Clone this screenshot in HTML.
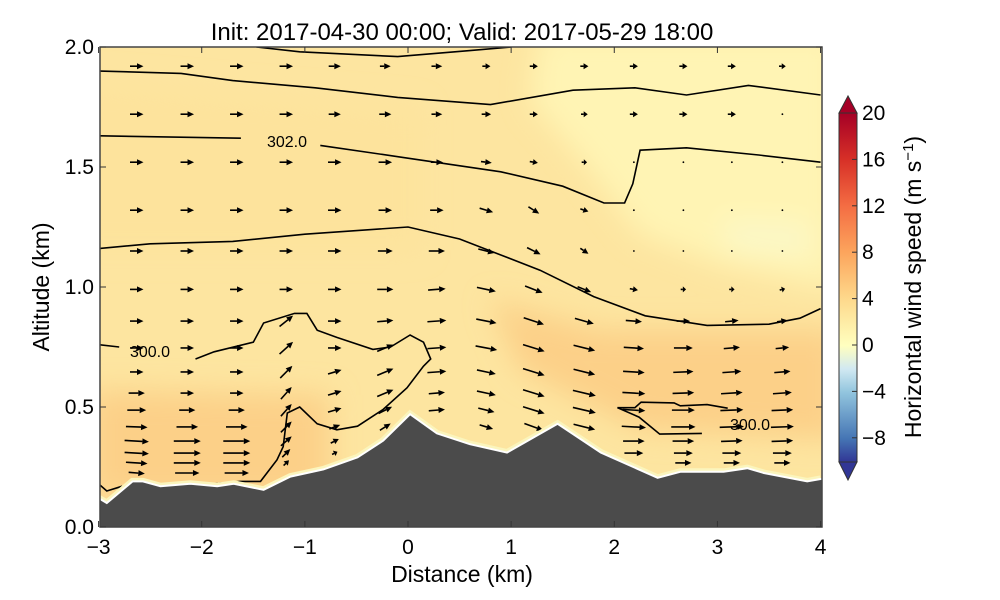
<!DOCTYPE html>
<html><head><meta charset="utf-8"><style>
body{margin:0;background:#fff;}
svg{display:block;font-family:"Liberation Sans","DejaVu Sans",sans-serif;}
</style></head><body>
<svg id="chart" width="1000" height="600" viewBox="0 0 1000 600">
<defs>
<clipPath id="plotclip"><rect x="100" y="47" width="722" height="480"/></clipPath>
<filter id="blur" x="-20%" y="-20%" width="140%" height="140%"><feGaussianBlur stdDeviation="14"/></filter>
<linearGradient id="cbgrad" x1="0" y1="1" x2="0" y2="0">
<stop offset="0" stop-color="#313695"/>
<stop offset="0.0667" stop-color="#4575b4"/>
<stop offset="0.2" stop-color="#92c5de"/>
<stop offset="0.2667" stop-color="#d1e9f2"/>
<stop offset="0.3333" stop-color="#ffffbf"/>
<stop offset="0.4667" stop-color="#fed98c"/>
<stop offset="0.6" stop-color="#fca55d"/>
<stop offset="0.7333" stop-color="#f46d43"/>
<stop offset="0.8667" stop-color="#d73027"/>
<stop offset="1" stop-color="#a50026"/>
</linearGradient>
</defs>
<text x="462" y="40" text-anchor="middle" font-size="24">Init: 2017-04-30 00:00; Valid: 2017-05-29 18:00</text>
<g clip-path="url(#plotclip)">
<rect x="100" y="47" width="722" height="480" fill="#fde5a0"/>
<g filter="url(#blur)">
<polygon points="540,30 840,30 840,290 720,265 640,235 590,170 530,100" fill="#fff4b4"/>
<polygon points="720,220 810,225 810,255 730,250" fill="#fbf8c8"/>
<polygon points="90,390 330,395 330,500 90,500" fill="#fcd088"/>
<polygon points="490,300 600,330 840,330 840,440 640,430 520,370" fill="#fcd088"/>
<polygon points="70,80 420,110 420,250 70,250" fill="#fde39c"/>
</g>
<g id="arrows"></g>
<g fill="none" stroke="#000" stroke-width="1.6" id="contours"></g>
<path id="terrainBorder" fill="none" stroke="#fbf5bd" stroke-width="7"/>
<path id="terrain" fill="#4b4b4b" stroke="#fff" stroke-width="2"/>
<text x="150" y="357" font-size="16" text-anchor="middle">300.0</text>
<text x="287" y="147" font-size="16" text-anchor="middle">302.0</text>
<text x="750" y="430" font-size="16" text-anchor="middle">300.0</text>
</g>
<rect x="100" y="47" width="722" height="480" fill="none" stroke="#444" stroke-width="1.5"/>
<g id="axes" font-size="21"></g>
<text x="462" y="582" text-anchor="middle" font-size="23">Distance (km)</text>
<text transform="translate(49,287) rotate(-90)" text-anchor="middle" font-size="23">Altitude (km)</text>
<g>
<polygon points="839,113 848,96 857,113" fill="#a50026" stroke="#333" stroke-width="1"/>
<polygon points="839,462 848,480 857,462" fill="#313695" stroke="#333" stroke-width="1"/>
<rect x="839" y="113" width="18" height="349" fill="url(#cbgrad)" stroke="#333" stroke-width="1"/>
<g id="cbticks" font-size="21"></g>
<text transform="translate(921,287) rotate(-90)" text-anchor="middle" font-size="23">Horizontal wind speed (m s<tspan dy="-8" font-size="15">−1</tspan><tspan dy="8">)</tspan></text>
</g>
</svg>
<script>
// ---- data ----
const xTicks = [-3,-2,-1,0,1,2,3,4];
const yTicks = [0.0,0.5,1.0,1.5,2.0];
const cbTicks = [20,16,12,8,4,0,-4,-8];
const terrainX = [-3,-2.92,-2.67,-2.57,-2.40,-2.11,-1.85,-1.69,-1.40,-1.14,-0.82,-0.49,-0.24,0.02,0.28,0.60,0.96,1.45,1.87,2.42,2.64,3.06,3.29,3.45,3.87,4.0];
const terrainY = [0.12,0.10,0.19,0.19,0.17,0.18,0.17,0.18,0.155,0.21,0.24,0.29,0.36,0.47,0.39,0.345,0.31,0.43,0.31,0.205,0.23,0.23,0.245,0.225,0.19,0.20];
const colX = [-2.63,-2.14,-1.66,-1.18,-0.71,-0.22,0.28,0.76,1.22,1.71,2.19,2.67,3.14,3.63];
const rowY = [1.92,1.72,1.52,1.32,1.15,0.99,0.858,0.746,0.646,0.558,0.487,0.417,0.358,0.308,0.267,0.225,0.196];
const uRows = [
[5,5,5,5,4.5,4,4,3,3,3,3,3,3,2.5],
[5,5,5,5,4.5,4.5,4,3.5,3,2.5,3,3,3,0.5],
[5,5,5,5,5,5,4.5,4,3,2,0.5,0.3,0.3,0.3],
[5,5,5,5,5,5,5,5,4,3,0.3,0.3,0.3,0.3],
[5,5,5,5,5,5.5,6,6,5,3,0.3,0.3,0.3,0.3],
[5,5,5,5,5,6,6.5,7,6.5,5,3,2,2,2],
[5,5,5,5,5,6,7,7.5,7.5,7,6,5,5,4],
[5,5,5,5,5,6,7,8,8,8,7.5,7,6,5],
[5,5,5,4.5,5,6,7,7,8,8,8,7.5,7,6],
[6,5,5,4,5,6,6,7,8,8.5,8.5,8,8,7],
[7,6,6,4,5,5,6,6,8,8.5,8.5,8.5,8.5,8],
[8,8,8,4,4,4,5,5,7,8,9,9,9,8.5],
[9,10,10,4,3,3,4,4,6,7,8,8,8,8],
[9,10,10,3,2,2,0,3,5,6,7,7,7,7],
[8,10,10,2,1,0,0,0,3,4,6,6,6,6],
[6,9,9,1,0,0,0,0,0,3,4,5,5,5],
[4,7,7,0,0,0,0,0,0,0,2,3,3,3]];
const wRows = [
[0,0,0,0,0,0,0,0,0,0,0,0,0,0],
[0,0,0,0,0,0,0,0,0,0,0,0,0,0],
[0,0,0,0,0,0,0,-0.5,-0.5,0,0,0,0,0],
[0,0,0,0,0,0,0,-1.5,-2.5,-1,0,0,0,0],
[0,0,0,0,0,0,0,-1.5,-2.5,-2,0,0,0,0],
[0,0,0,0,0,0,0.5,-1.5,-2.5,-2,-0.5,0,0,0.5],
[0,0,0,4,0,0.5,0.5,-1.5,-2.5,-2,-0.5,0,0.5,0.5],
[0,0,0,4.5,0,2.5,0.5,-1.5,-2.5,-2,-0.5,0,0.5,0.5],
[0,0,0,4.5,1.5,2.5,0.5,-1.5,-2.5,-2,-0.5,0.3,0.5,0.5],
[0,0,0,4.5,1.5,2.5,0.5,-1.5,-2.5,-2,-0.5,0.3,0.5,0.5],
[0,0,0,4.5,1.5,2.5,0.5,-1.5,-2.5,-2,-0.5,0,0.3,0.3],
[-0.3,0,0,4,1.5,2.5,0.5,-1.5,-2.5,-2,-0.5,0,0.3,0.3],
[-0.5,0,0,3.5,1.5,2.5,0.5,-1.5,-2,-1,0,0,0.3,0.3],
[-0.5,0,0,3,1,2,0,-1,-1,0,0,0,0,0],
[-0.5,0,0,2,0,0,0,0,0,0,0,0,0,0],
[-0.5,0,0,1,0,0,0,0,0,0,0,0,0,0],
[0,0,0,0,0,0,0,0,0,0,0,0,0,0]];
const contourLines = [
[[-1.47,2.0],[-1.05,1.98],[-0.1,1.96],[0.6,1.985],[1.0,2.0]],
[[-3,1.9],[-2.2,1.89],[-1.7,1.86],[-0.9,1.83],[-0.1,1.79],[0.8,1.76],[1.6,1.82],[2.2,1.83],[2.7,1.8],[3.3,1.84],[4,1.8]],
[[-3,1.63],[-1.62,1.62]],
[[-0.85,1.59],[-0.05,1.54],[0.9,1.48],[1.5,1.42],[1.9,1.35],[2.1,1.35],[2.18,1.43],[2.25,1.57],[2.7,1.58],[3.4,1.55],[4,1.52]],
[[-3,1.16],[-2.5,1.18],[-1.7,1.19],[-1.0,1.22],[0.0,1.25],[0.5,1.20],[1.28,1.07],[1.8,0.96],[2.3,0.88],[2.9,0.84],[3.5,0.845],[3.8,0.87],[4,0.91]],
[[-2.06,0.70],[-1.88,0.73],[-1.5,0.77],[-1.4,0.85],[-1.1,0.89],[-0.98,0.89],[-0.88,0.82],[-0.69,0.79],[-0.34,0.74],[-0.17,0.75],[0.02,0.80],[0.15,0.77],[0.22,0.70],[0.15,0.67],[-0.01,0.58],[-0.24,0.49],[-0.49,0.42],[-0.69,0.405],[-0.88,0.43],[-1.05,0.50],[-1.17,0.475],[-1.21,0.335],[-1.27,0.28],[-1.43,0.19],[-1.63,0.19],[-1.89,0.18]],
[[-3,0.18],[-2.92,0.15],[-2.77,0.17]],
[[-3,0.76],[-2.8,0.75]],
[[2.03,0.497],[2.2,0.497],[2.26,0.52],[2.58,0.517],[2.64,0.505],[2.9,0.51],[3.1,0.495]],
[[2.03,0.497],[2.24,0.458],[2.44,0.387],[2.85,0.39]]];

// ---- scales ----
const X = v => 408 + v*103.14;
const Y = v => 527 - v*240;
const CB = v => 113 + (20 - v)*11.6;
const NS='http://www.w3.org/2000/svg';
function mk(tag, attrs, parent){const e=document.createElementNS(NS,tag);for(const k in attrs)e.setAttribute(k,attrs[k]);parent.appendChild(e);return e;}

function terrainAt(x){for(let i=0;i<terrainX.length-1;i++){const a=terrainX[i],b=terrainX[i+1];if(x>=a&&x<=b){const t=(x-a)/(b-a||1);return terrainY[i]+t*(terrainY[i+1]-terrainY[i]);}}return 0.2;}
let tp = terrainX.map((x,i)=>(i?'L':'M')+X(x).toFixed(1)+','+Y(terrainY[i]).toFixed(1)).join(' ');
document.getElementById('terrainBorder').setAttribute('d', tp);
document.getElementById('terrain').setAttribute('d', tp+' L'+X(4.1)+','+Y(0.2)+' L'+X(4.1)+','+Y(-0.1)+' L'+X(-3.1)+','+Y(-0.1)+' Z');

const cg=document.getElementById('contours');
contourLines.forEach((line,i)=>{
 const p=mk('path',{d:line.map((q,j)=>(j?'L':'M')+X(q[0]).toFixed(1)+','+Y(q[1]).toFixed(1)).join(' ')},cg);
 
 
});

const ag=document.getElementById('arrows');
const S=2.7;
rowY.forEach((yv,r)=>{colX.forEach((xv,c)=>{
 if(yv < terrainAt(xv)+0.03) return;
 const u=uRows[r][c], w=wRows[r][c];
 const x0=X(xv), y0=Y(yv);
 const dx=u*S, dy=-w*S;
 const L=Math.hypot(dx,dy);
 const g=mk('g',{},ag);
 
 
 if(L<2.5){mk('circle',{cx:x0,cy:y0,r:0.9,fill:'#000'},g);return;}
 const ux=dx/L, uy=dy/L;
 const sx=x0-dx/2, sy=y0-dy/2, ex=x0+dx/2, ey=y0+dy/2;
 const hl=Math.min(6.5,L*0.6), hw=3;
 const bx=ex-ux*hl, by=ey-uy*hl;
 mk('line',{x1:sx,y1:sy,x2:bx,y2:by,stroke:'#000','stroke-width':1.6},g);
 mk('polygon',{points:`${ex},${ey} ${bx-uy*hw},${by+ux*hw} ${bx+uy*hw},${by-ux*hw}`,fill:'#000'},g);
});});

const ax=document.getElementById('axes');
xTicks.forEach(v=>{
 mk('line',{x1:X(v),y1:527,x2:X(v),y2:521,stroke:'#333'},ax);
 mk('line',{x1:X(v),y1:47,x2:X(v),y2:53,stroke:'#333'},ax);
 const t=mk('text',{x:X(v),y:554,'text-anchor':'middle'},ax);
 t.textContent=(v<0?'−':'')+Math.abs(v);
 
 
});
yTicks.forEach(v=>{
 mk('line',{x1:100,y1:Y(v),x2:106,y2:Y(v),stroke:'#333'},ax);
 mk('line',{x1:822,y1:Y(v),x2:816,y2:Y(v),stroke:'#333'},ax);
 const t=mk('text',{x:94,y:Y(v)+7,'text-anchor':'end'},ax);
 t.textContent=v.toFixed(1);
 
 
});
const cbt=document.getElementById('cbticks');
cbTicks.forEach(v=>{
 mk('line',{x1:852,y1:CB(v),x2:857,y2:CB(v),stroke:'#333'},cbt);
 const t=mk('text',{x:862,y:CB(v)+7},cbt);
 t.textContent=(v<0?'−':'')+Math.abs(v);
 
 
});
</script>
</body></html>
